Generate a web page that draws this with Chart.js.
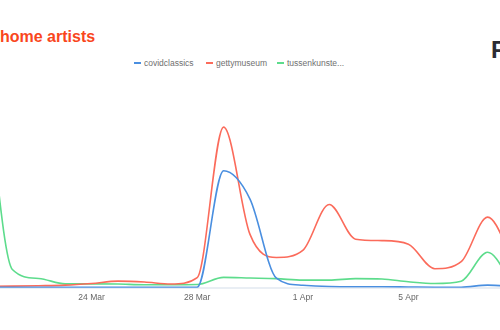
<!DOCTYPE html>
<html>
<head>
<meta charset="utf-8">
<script src="https://cdn.jsdelivr.net/npm/chart.js@4"></script>
<style>
  html, body { margin: 0; padding: 0; background: #fff; overflow: hidden; }
  body { width: 500px; height: 330px; position: relative; font-family: "Liberation Sans", Arial, sans-serif; }
  #title { position: absolute; left: 0; top: 29px; font-size: 16px; line-height: 16px; font-weight: bold; color: #f9461c; white-space: nowrap; }
  #logo { position: absolute; left: 491px; top: 38px; font-size: 24px; line-height: 24px; font-weight: bold; color: #2b2b33; }
  .legend-item { position: absolute; top: 58px; height: 10px; display: flex; align-items: center; font-size: 8.5px; line-height: 10px; color: #707070; white-space: nowrap; }
  .legend-item i { display: inline-block; width: 7px; height: 2px; margin-right: 3px; }
  #wrap { position: absolute; left: -14px; top: 0; width: 528px; height: 330px; }
</style>
</head>
<body>
<div id="title">home artists</div>
<div id="logo">F</div>
<div id="legend"></div>
<div id="wrap"><canvas id="chart"></canvas></div>
<script>
// days shown on the x axis (category scale)
const days = ['20 Mar', '21 Mar', '22 Mar', '23 Mar', '24 Mar', '25 Mar', '26 Mar', '27 Mar', '28 Mar', '29 Mar',
  '30 Mar', '31 Mar', '1 Apr', '2 Apr', '3 Apr', '4 Apr', '5 Apr', '6 Apr', '7 Apr', '8 Apr', '9 Apr'];
const tickLabels = ['24 Mar', '28 Mar', '1 Apr', '5 Apr'];

// series values
const covidclassics = [0.3, 0.3, 0.3, 0.3, 0.3, 0.3, 0.3, 0.3, 0.3, 56.3,
  42.7, 4.6, 1.2, 0.6, 0.5, 0.5, 0.4, 0.3, 0.3, 1.3, 0.6];
const gettymuseum = [0.7, 0.8, 1.0, 1.3, 2.1, 3.2, 2.8, 1.8, 4.9, 77.3,
  25.7, 14.6, 18, 40.1, 23.4, 22.7, 21, 9.2, 12.6, 34, 12.3];
const tussenkunsten = [99, 8.8, 4.5, 1.9, 1.9, 1.8, 1.5, 1.5, 1.6, 5.0,
  4.7, 4.4, 3.7, 3.7, 4.4, 4.2, 2.9, 2.1, 3.2, 17.1, 0.5];

const seriesNames = ['covidclassics', 'gettymuseum', 'tussenkunste...'];
const colors = ['#4a8fe0', '#fb6b5b', '#5ddc8c'];
const legendLeft = [134, 206, 277];

const chart = new Chart(document.getElementById('chart').getContext('2d'), {
  type: 'line',
  data: {
    labels: days,
    datasets: [covidclassics, gettymuseum, tussenkunsten].map((data, i) => ({
      label: seriesNames[i],
      data: data,
      borderColor: colors[i],
      backgroundColor: colors[i],
      borderWidth: 1.6,
      pointRadius: 0,
      cubicInterpolationMode: 'monotone',
      fill: false
    }))
  },
  options: {
    responsive: true,
    maintainAspectRatio: false,
    animation: false,
    layout: { autoPadding: false, padding: { top: 80, bottom: 22, left: 0, right: 0 } },
    plugins: {
      legend: { display: false },
      tooltip: { enabled: false }
    },
    scales: {
      y: {
        display: false,
        min: 0,
        max: 100
      },
      x: {
        grid: { display: false, drawTicks: false },
        border: { display: true, color: '#e9eef4', width: 2 },
        afterFit: (scale) => {
          // the chart is cropped on both sides, no label padding wanted
          scale.paddingLeft = 0;
          scale.paddingRight = 0;
        },
        ticks: {
          autoSkip: false,
          maxRotation: 0,
          padding: 5,
          color: '#666',
          font: { family: '"Liberation Sans", Arial, sans-serif', size: 8.5 },
          callback: function (value) {
            const l = this.getLabelForValue(value);
            return tickLabels.includes(l) ? l : '';
          }
        }
      }
    }
  }
});

// html legend
const legend = document.getElementById('legend');
chart.data.datasets.forEach((ds, i) => {
  const item = document.createElement('div');
  item.className = 'legend-item';
  item.style.left = legendLeft[i] + 'px';
  item.innerHTML = `<i style="background:${ds.borderColor}"></i>${ds.label}`;
  legend.appendChild(item);
});
</script>
</body>
</html>
